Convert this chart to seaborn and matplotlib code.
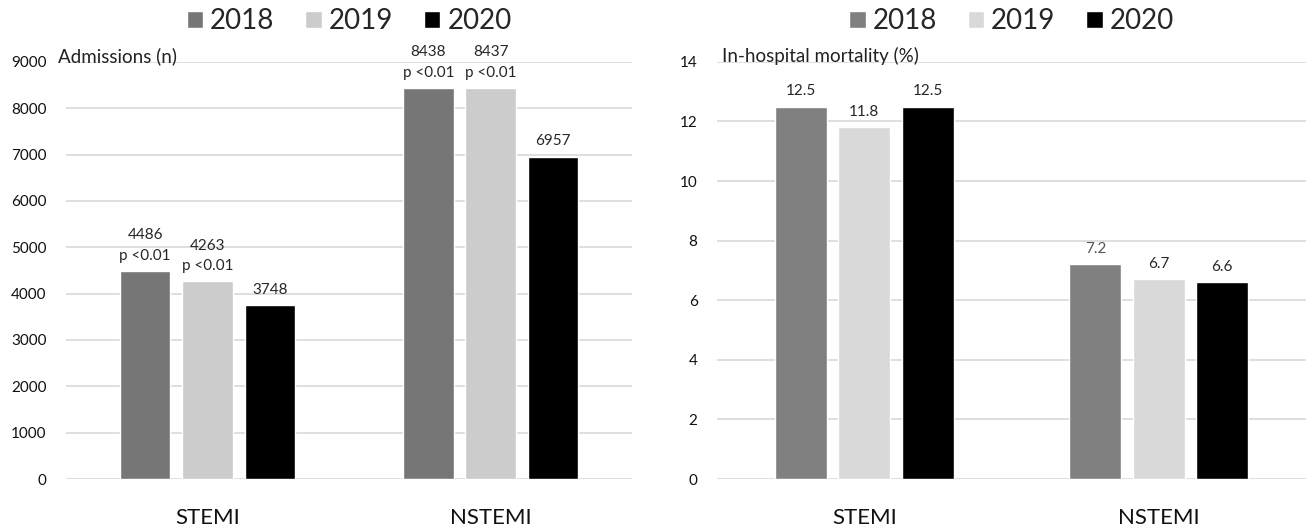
import matplotlib
matplotlib.use('Agg')
import matplotlib.pyplot as plt
import seaborn as sns
import pandas as pd

# Данные
categories = ['STEMI', 'NSTEMI']
years = ['2018', '2019', '2020']
admissions = {'2018': [4486, 8438], '2019': [4263, 8437], '2020': [3748, 6957]}
mortality = {'2018': [12.5, 7.2], '2019': [11.8, 6.7], '2020': [12.5, 6.6]}
adm_pvals = {'2018': ['p <0.01', 'p <0.01'], '2019': ['p <0.01', 'p <0.01'], '2020': ['', '']}

sns.set_style('white')
plt.rcParams['font.family'] = ['Lato', 'DejaVu Sans']


def to_frame(values):
    rows = []
    for y in years:
        for c, v in zip(categories, values[y]):
            rows.append({'cat': c, 'year': y, 'value': v})
    return pd.DataFrame(rows)


def style_axis(ax, ymax, step, ylabel, label_x):
    ax.set_ylim(0, ymax)
    ax.set_yticks(range(0, ymax + 1, step))
    ax.yaxis.grid(True, color='#d9d9d9', linewidth=1.2)
    ax.set_axisbelow(True)
    sns.despine(ax=ax, left=True, bottom=True)
    ax.tick_params(axis='y', length=0, pad=14, labelsize=11, labelcolor='#111111')
    ax.tick_params(axis='x', length=0, pad=21, labelsize=16, labelcolor='#111111')
    ax.set_xlabel('')
    ax.set_ylabel('')
    ax.text(label_x, 1.0, ylabel, transform=ax.transAxes, fontsize=13.5,
            ha='left', va='baseline', color='#222222')
    ax.legend(loc='center', bbox_to_anchor=(0.5, 1.097), ncol=3, frameon=False,
              fontsize=20, handlelength=0.6, handleheight=0.6, handletextpad=0.25,
              columnspacing=1.1)


fig = plt.figure(figsize=(13.06, 5.29), dpi=100)
ax1 = fig.add_axes([0.0505, 0.0945, 0.4335, 0.7885])
ax2 = fig.add_axes([0.549, 0.0945, 0.451, 0.7885])

# Госпитализации
df1 = to_frame(admissions)
sns.barplot(data=df1, x='cat', y='value', hue='year', ax=ax1,
            palette=['#767676', '#cccccc', '#000000'], width=0.66, gap=0.19,
            saturation=1)
for cont, y in zip(ax1.containers, years):
    labels = [f'{v}\n{p}' if p else f'{v}' for v, p in zip(admissions[y], adm_pvals[y])]
    ax1.bar_label(cont, labels=labels, padding=6, fontsize=11, linespacing=1.6)
style_axis(ax1, 9000, 1000, 'Admissions (n)', -0.014)

# Госпитальная летальность
df2 = to_frame(mortality)
sns.barplot(data=df2, x='cat', y='value', hue='year', ax=ax2,
            palette=['#808080', '#d9d9d9', '#000000'], width=0.645, gap=0.18,
            saturation=1)
for cont, y in zip(ax2.containers, years):
    txts = ax2.bar_label(cont, labels=[f'{v}' for v in mortality[y]], padding=6, fontsize=11)
    if y == '2018':
        txts[1].set_color('#555555')
style_axis(ax2, 14, 2, 'In-hospital mortality (%)', 0.008)

fig.savefig('out.png', dpi=100)
